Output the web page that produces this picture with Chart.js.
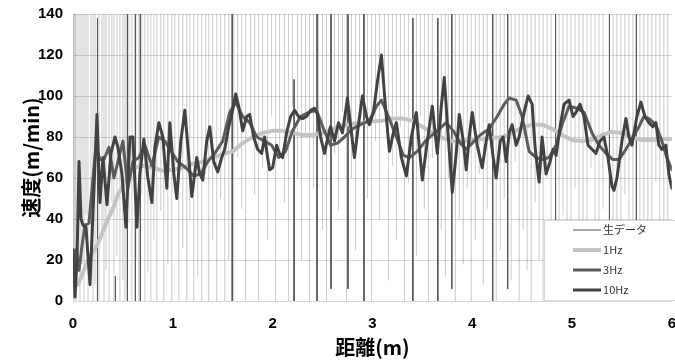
<!DOCTYPE html>
<html lang="ja">
  <head>
    <meta charset="UTF-8" />
    <title>速度</title>
    <script src="https://cdn.jsdelivr.net/npm/chart.js"></script>
    <style>
      html, body { margin: 0; padding: 0; background: #fff; overflow: hidden; }
      .wrap { width: 690px; height: 366px; margin-top: -5px; }
    </style>
  </head>
  <body>
    <div class="wrap"><canvas id="speedChart" width="690" height="366"></canvas></div>

    <script>
      // raw data: spikes that run off the top of the axis, [distance, lowest value]
      const rawPeak = 160;
      const rawSpikes = [
        [0.01,0],[0.02,12],[0.03,0],[0.05,30],[0.07,0],[0.09,18],[0.11,0],[0.13,42],[0.15,0],[0.18,25],
        [0.20,0],[0.22,8],[0.26,0],[0.29,35],[0.31,0],[0.33,15],[0.36,0],[0.39,48],[0.41,0],[0.44,22],
        [0.47,0],[0.50,10],[0.52,0],[0.56,38],[0.59,0],[0.63,20],[0.66,0],[0.69,52],[0.72,0],[0.75,14],
        [0.78,0],[0.81,30],[0.84,0],[0.88,44],[0.91,0],[0.95,18],[0.99,0],[1.02,58],[1.06,0],[1.10,26],
        [1.14,0],[1.17,40],[1.21,0],[1.25,12],[1.29,0],[1.33,62],[1.36,0],[1.40,30],[1.44,0],[1.48,50],
        [1.52,0],[1.56,20],[1.61,0],[1.65,70],[1.69,45],[1.73,0],[1.78,85],[1.82,52],[1.86,0],[1.90,65],
        [1.95,30],[1.99,90],[2.03,0],[2.07,75],[2.12,48],[2.16,0],[2.20,95],[2.25,60],[2.29,20],[2.33,80],
        [2.37,0],[2.41,55],[2.46,88],[2.50,35],[2.54,0],[2.62,72],[2.66,44],[2.70,92],[2.74,0],[2.79,60],
        [2.83,25],[2.87,85],[2.95,50],[2.99,0],[3.03,78],[3.07,40],[3.12,95],[3.16,10],[3.20,66],[3.24,30],
        [3.28,85],[3.32,0],[3.36,58],[3.44,22],[3.48,90],[3.52,45],[3.56,0],[3.60,70],[3.69,35],[3.73,12],
        [3.76,60],[3.83,0],[3.87,40],[3.91,18],[3.95,55],[3.99,0],[4.03,30],[4.07,62],[4.11,8],[4.15,45],
        [4.24,0],[4.28,25],[4.32,50],[4.39,10],[4.43,68],[4.47,0],[4.51,35],[4.55,15],[4.59,0],[4.63,48],
        [4.67,20],[4.71,0],[4.75,60],[4.79,28],[4.87,0],[4.91,42],[4.95,12],[4.99,0],[5.03,55],[5.07,22],
        [5.11,0],[5.15,38],[5.19,65],[5.23,0],[5.27,18],[5.31,45],[5.41,0],[5.45,30],[5.49,8],[5.53,52],
        [5.57,0],[5.61,25],[5.68,0],[5.72,40],[5.76,15],[5.80,0],[5.84,58],[5.88,20],[5.92,0],[5.96,35]
      ];
      // raw data samples that land exactly on a pixel column: [distance, top, bottom]
      const darkSpikes = [
        [0.24,138,0],[0.42,12,0],[0.54,160,0],[0.62,160,0],[0.67,160,0],[1.59,160,0],
        [2.21,108,0],[2.44,160,0],[2.58,160,6],[2.75,160,6],[2.91,160,0],[3.40,138,0],
        [3.65,138,0],[3.79,160,6],[4.20,160,0],[4.35,160,6],[4.83,160,0],[5.37,160,0],[5.64,160,0]
      ];

      // 1Hz filter
      const x1Hz = [0.05,0.1,0.15,0.2,0.25,0.3,0.35,0.4,0.45,0.5,0.55,0.6,0.7,0.8,0.9,1.0,1.1,1.2,1.3,1.4,
        1.5,1.6,1.7,1.8,1.9,2.0,2.1,2.2,2.3,2.4,2.5,2.6,2.7,2.8,2.9,3.0,3.1,3.2,3.3,3.4,
        3.5,3.6,3.7,3.8,3.9,4.0,4.1,4.2,4.3,4.4,4.5,4.6,4.7,4.8,4.9,5.0,5.1,5.2,5.3,5.4,
        5.5,5.6,5.7,5.8,5.9,6.0];
      const y1Hz = [8,14,20,24,28,34,40,45,52,56,62,65,66,65,63.5,64,65,67,68,70,
        71.5,73,77,80,82,83,83,82,81,81,82,84,85.5,86.5,87,87.5,88,89,89,88,
        85,82,79.5,78,78,78.5,79,79.5,80,82,84.5,86,86,84,81,78.5,78,78.5,81,82.5,
        82,80,78.5,78.5,79,79];

      // 3Hz filter
      const x3Hz = [0,0.03,0.06,0.09,0.12,0.16,0.2,0.23,0.27,0.31,0.36,0.41,0.46,0.5,0.55,0.6,0.66,0.72,0.79,0.86,
        0.92,0.97,1.05,1.13,1.21,1.28,1.35,1.42,1.5,1.57,1.63,1.7,1.77,1.84,1.92,1.99,2.06,2.13,2.2,2.28,
        2.36,2.44,2.51,2.58,2.65,2.72,2.8,2.88,2.97,3.04,3.09,3.16,3.24,3.31,3.37,3.45,3.53,3.6,3.67,3.74,
        3.81,3.88,3.94,4.0,4.08,4.17,4.25,4.32,4.37,4.44,4.5,4.57,4.64,4.7,4.77,4.84,4.9,4.97,5.05,5.12,
        5.2,5.27,5.34,5.41,5.47,5.54,5.6,5.66,5.72,5.77,5.84,5.9,5.95,6.0];
      const y3Hz = [10,25,15,27,37,38,60,75,69,69,75,60,70,78,55,68,70,76,66,80,
        78,74,68,65,61,62,68,72,78,92,97,90,87,80,78,76,70,73,83,90,
        92,93,84,76,77,80,84,86,88,95,98,90,80,71,70,73,78,81,84,87,
        83,77,74,77,81,84,90,96,99,98,90,73,70,69,70,76,86,95,94,92,
        82,76,72,69,69,74,79,84,90,89,86,78,70,64];

      // 10Hz filter
      const x10Hz = [0,0.02,0.04,0.06,0.08,0.1,0.13,0.17,0.21,0.24,0.27,0.3,0.34,0.38,0.42,0.45,0.49,0.53,0.57,0.6,
        0.64,0.67,0.71,0.75,0.79,0.82,0.86,0.9,0.94,0.97,1.01,1.04,1.08,1.12,1.16,1.19,1.24,1.27,1.3,1.34,
        1.37,1.41,1.45,1.49,1.52,1.56,1.59,1.63,1.66,1.7,1.74,1.77,1.81,1.85,1.89,1.92,1.95,1.97,2.0,2.04,
        2.07,2.1,2.14,2.18,2.22,2.26,2.3,2.34,2.38,2.42,2.45,2.48,2.52,2.55,2.58,2.62,2.66,2.7,2.75,2.79,
        2.82,2.86,2.9,2.94,2.97,3.01,3.05,3.09,3.13,3.17,3.21,3.24,3.29,3.34,3.39,3.44,3.47,3.5,3.55,3.6,
        3.65,3.69,3.72,3.76,3.8,3.84,3.87,3.91,3.94,3.97,4.0,4.05,4.1,4.14,4.17,4.21,4.24,4.28,4.31,4.34,
        4.37,4.4,4.44,4.47,4.52,4.56,4.6,4.63,4.67,4.7,4.74,4.78,4.81,4.84,4.88,4.92,4.97,5.01,5.04,5.08,
        5.12,5.16,5.2,5.24,5.28,5.32,5.36,5.4,5.42,5.45,5.5,5.54,5.57,5.6,5.65,5.69,5.73,5.77,5.81,5.84,
        5.87,5.9,5.94,5.97,6.0];
      const y10Hz = [25,2,20,68,40,37,36,8,55,91,48,70,47,72,80,75,62,36,80,80,
        36,62,79,60,48,75,87,80,55,87,62,50,78,93,70,51,70,62,59,78,
        85,68,63,70,74,85,91,101,95,83,90,91,80,74,72,80,70,64,65,76,
        72,70,82,90,93,90,89,90,93,94,91,80,72,79,85,78,87,82,99,82,
        70,86,100,90,86,92,107,120,95,73,82,87,70,61,80,92,75,59,78,95,
        72,95,109,80,53,72,91,78,64,80,92,76,65,78,86,70,60,78,80,68,
        82,86,76,80,92,100,96,75,58,80,62,68,74,71,85,96,98,90,92,96,
        90,76,74,72,78,80,70,56,54,60,78,89,80,76,90,97,90,87,85,87,
        76,74,76,62,55];

      const xTicks = [0, 1, 2, 3, 4, 5, 6];
      const yTicks = [0, 20, 40, 60, 80, 100, 120, 140];

      const pairs = (xs, ys) => xs.map((x, i) => ({ x: x, y: ys[i] }));

      // each spike is its own short line, separated by a gap
      const lightPoints = [];
      rawSpikes.forEach((s) => {
        lightPoints.push({ x: s[0], y: rawPeak }, { x: s[0], y: s[1] }, { x: s[0], y: null });
      });
      const darkPoints = [];
      darkSpikes.forEach((s) => {
        darkPoints.push({ x: s[0], y: s[1] }, { x: s[0], y: s[2] }, { x: s[0], y: null });
      });

      const tickFont = { family: "'Liberation Sans', Arial, sans-serif", size: 15, weight: "bold" };
      const titleFont = { family: "'Noto Sans CJK JP', sans-serif", size: 20, weight: "bold" };

      // keep the 1px raw lines sharp
      const crispLines = {
        id: "crispLines",
        beforeDatasetDraw(chart, args) {
          if (args.meta.dataset && chart.data.datasets[args.index].crisp) {
            chart.ctx.save();
            chart.ctx.translate(0.5, 0);
          }
        },
        afterDatasetDraw(chart, args) {
          if (args.meta.dataset && chart.data.datasets[args.index].crisp) chart.ctx.restore();
        },
      };

      // y title drawn by hand so it can sit close to the tick labels
      const yTitle = {
        id: "yTitle",
        afterDraw(chart) {
          const ctx = chart.ctx;
          const area = chart.chartArea;
          ctx.save();
          ctx.translate(area.left - 42, (area.top + area.bottom) / 2);
          ctx.rotate(-Math.PI / 2);
          ctx.font = "bold 20px 'Noto Sans CJK JP', sans-serif";
          ctx.fillStyle = "#000";
          ctx.textAlign = "center";
          ctx.textBaseline = "middle";
          ctx.fillText("速度(m/min)", 0, 0);
          ctx.restore();
        },
      };

      // legend box sitting in the lower right corner of the plot
      const boxLegend = {
        id: "boxLegend",
        afterDraw(chart) {
          const ctx = chart.ctx;
          const area = chart.chartArea;
          const left = area.left + 471;
          const top = area.bottom - 81;
          ctx.save();
          ctx.fillStyle = "#ffffff";
          ctx.strokeStyle = "#d9d9d9";
          ctx.lineWidth = 1;
          ctx.fillRect(left, top, 150, 80);
          ctx.strokeRect(left + 0.5, top + 0.5, 150, 80);
          ctx.font = "11px 'Noto Sans CJK JP', 'Liberation Sans', sans-serif";
          ctx.textBaseline = "middle";
          let row = 0;
          chart.data.datasets.forEach((ds) => {
            if (!ds.inLegend) return;
            const y = top + 10 + row * 20;
            ctx.strokeStyle = ds.borderColor;
            ctx.lineWidth = ds.borderWidth;
            ctx.beginPath();
            ctx.moveTo(left + 29, y);
            ctx.lineTo(left + 57, y);
            ctx.stroke();
            ctx.fillStyle = "#333333";
            ctx.fillText(ds.label, left + 59, y);
            row++;
          });
          ctx.restore();
        },
      };

      new Chart(document.getElementById("speedChart"), {
        type: "line",
        data: {
          datasets: [
            {
              label: "生データ",
              inLegend: true,
              crisp: true,
              data: darkPoints,
              borderColor: "#555555",
              borderWidth: 1,
              order: 3,
            },
            {
              label: "1Hz",
              inLegend: true,
              data: pairs(x1Hz, y1Hz),
              borderColor: "#c3c3c3",
              borderWidth: 4,
              order: 2,
            },
            {
              label: "3Hz",
              inLegend: true,
              data: pairs(x3Hz, y3Hz),
              borderColor: "#5c5c5c",
              borderWidth: 3,
              order: 1,
            },
            {
              label: "10Hz",
              inLegend: true,
              data: pairs(x10Hz, y10Hz),
              borderColor: "#424242",
              borderWidth: 3,
              order: 0,
            },
            {
              label: "raw",
              inLegend: false,
              data: lightPoints,
              borderColor: "rgba(0,0,0,0.08)",
              borderWidth: 1,
              order: 4,
            },
          ],
        },
        options: {
          responsive: false,
          animation: false,
          spanGaps: false,
          layout: { padding: { left: 28, top: 0, right: 0, bottom: 2 } },
          elements: {
            point: { radius: 0 },
            line: { tension: 0, borderJoinStyle: "round", borderCapStyle: "round" },
          },
          plugins: { legend: { display: false }, tooltip: { enabled: false } },
          scales: {
            x: {
              type: "linear",
              min: 0,
              max: 6,
              afterBuildTicks: (axis) => { axis.ticks = xTicks.map((v) => ({ value: v })); },
              grid: { display: false, drawTicks: false },
              border: { display: false },
              ticks: { font: tickFont, color: "#000", padding: 14, maxRotation: 0 },
              title: { display: true, text: "距離(m)", font: titleFont, color: "#000", padding: { top: -12, bottom: 0 } },
            },
            y: {
              min: 0,
              max: 140,
              afterBuildTicks: (axis) => { axis.ticks = yTicks.map((v) => ({ value: v })); },
              grid: { color: "#d9d9d9", drawTicks: false },
              border: { display: true, color: "#d9d9d9" },
              ticks: { font: tickFont, color: "#000", padding: 10 },
            },
          },
        },
        plugins: [crispLines, yTitle, boxLegend],
      });
    </script>
  </body>
</html>
